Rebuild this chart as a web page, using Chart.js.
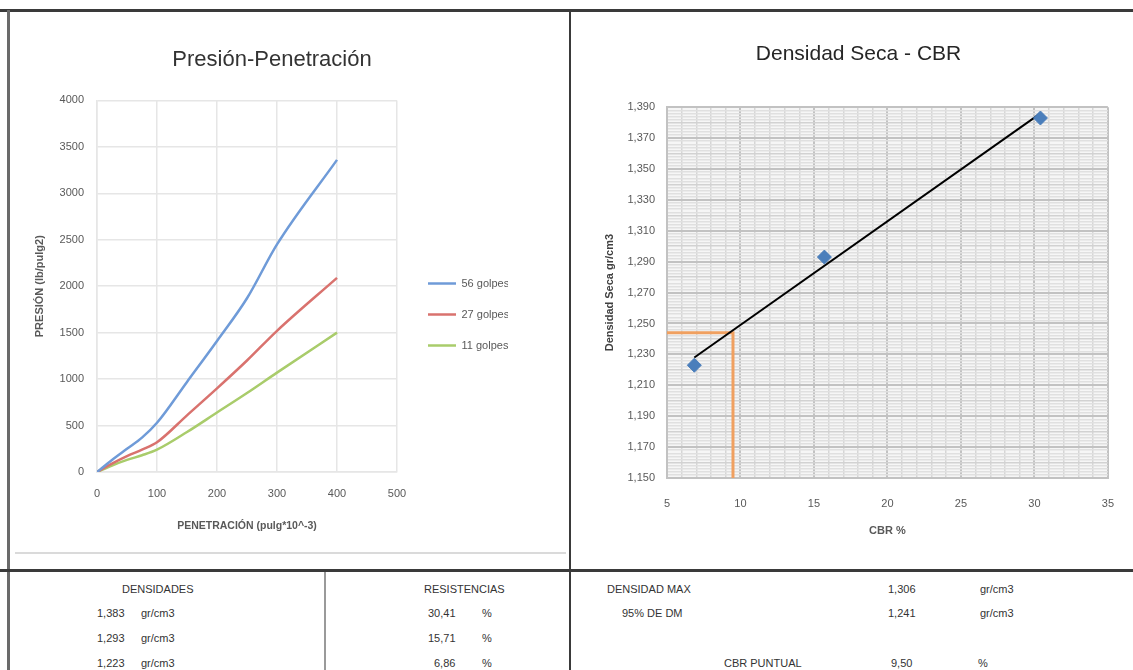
<!DOCTYPE html>
<html>
<head>
<meta charset="utf-8">
<script src="https://cdn.jsdelivr.net/npm/chart.js@4/dist/chart.umd.min.js"></script>
<style>
  html, body { margin: 0; padding: 0; background: #fff; }
  body { width: 1133px; height: 670px; position: relative; overflow: hidden;
         font-family: 'Liberation Sans', Arial, sans-serif; color: #333; }
  .ln { position: absolute; }
  canvas { position: absolute; }
  .t { position: absolute; font-size: 11px; white-space: nowrap; }
</style>
</head>
<body>
<!-- marco de la hoja -->
<div class="ln" style="left:0;top:9px;width:1133px;height:3px;background:#3a3a3a"></div>
<div class="ln" style="left:7px;top:10px;width:3px;height:660px;background:#6a6a6a"></div>
<div class="ln" style="left:569px;top:10px;width:2px;height:660px;background:#3a3a3a"></div>
<div class="ln" style="left:0;top:569px;width:1133px;height:3px;background:#3a3a3a"></div>
<div class="ln" style="left:15px;top:552px;width:551px;height:2px;background:#dadada"></div>
<div class="ln" style="left:324px;top:572px;width:2px;height:98px;background:#9a9a9a"></div>

<canvas id="pen-chart" width="555" height="532" style="left:10px;top:20px;width:555px;height:532px"></canvas>
<canvas id="cbr-chart" width="558" height="540" style="left:575px;top:20px;width:558px;height:540px"></canvas>

<!-- tabla inferior -->
<div class="t" style="left:122px;top:583px">DENSIDADES</div>
<div class="t" style="left:97px;top:607px">1,383</div><div class="t" style="left:141px;top:607px">gr/cm3</div>
<div class="t" style="left:97px;top:632px">1,293</div><div class="t" style="left:141px;top:632px">gr/cm3</div>
<div class="t" style="left:97px;top:657px">1,223</div><div class="t" style="left:141px;top:657px">gr/cm3</div>

<div class="t" style="left:424px;top:583px">RESISTENCIAS</div>
<div class="t" style="left:428px;top:607px">30,41</div><div class="t" style="left:482px;top:607px">%</div>
<div class="t" style="left:428px;top:632px">15,71</div><div class="t" style="left:482px;top:632px">%</div>
<div class="t" style="left:434px;top:657px">6,86</div><div class="t" style="left:482px;top:657px">%</div>

<div class="t" style="left:607px;top:583px">DENSIDAD MAX</div>
<div class="t" style="left:622px;top:607px">95% DE DM</div>
<div class="t" style="left:724px;top:657px">CBR PUNTUAL</div>
<div class="t" style="left:888px;top:583px">1,306</div><div class="t" style="left:980px;top:583px">gr/cm3</div>
<div class="t" style="left:888px;top:607px">1,241</div><div class="t" style="left:980px;top:607px">gr/cm3</div>
<div class="t" style="left:891px;top:657px">9,50</div><div class="t" style="left:978px;top:657px">%</div>

<script>
// Presión - Penetración
const penetracion = [0, 25, 50, 75, 100, 150, 200, 250, 300, 400];
const golpes56 = [0, 130, 250, 370, 530, 970, 1410, 1870, 2450, 3360];
const golpes27 = [0, 90, 170, 240, 320, 610, 900, 1200, 1520, 2090];
const golpes11 = [0, 70, 130, 180, 240, 430, 640, 850, 1070, 1500];
const serieNames = ['56 golpes', '27 golpes', '11 golpes'];
const serieColors = ['#6f9bd8', '#d9726e', '#a9cc6b'];

// Densidad seca - CBR
const cbrValues = [30.41, 15.71, 6.86];
const densValues = [1.383, 1.293, 1.223];
const trendX = [6.86, 30.41];
const trendY = [1.228, 1.386];
const guideX = [5, 9.49, 9.49];
const guideY = [1.244, 1.244, 1.15];

const FONT = "'Liberation Sans', Arial, sans-serif";
const TICK = '#595959';

function pts(xs, ys) {
  return xs.map((x, i) => ({ x: x, y: ys[i] }));
}

// mueve la leyenda a su sitio (Excel la centra sobre todo el gráfico)
const legendPos = {
  id: 'legendPos',
  afterLayout(chart) {
    const lg = chart.legend;
    if (!lg) return;
    const w = lg.width, h = lg.height;
    lg.left = 398; lg.right = 398 + w;
    lg.top = 238; lg.bottom = 238 + h;
  }
};

// fondo gris muy claro del área de trazado
const plotBg = {
  id: 'plotBg',
  beforeDraw(chart, args, opts) {
    const a = chart.chartArea;
    const ctx = chart.ctx;
    ctx.save();
    ctx.fillStyle = opts.color;
    ctx.fillRect(a.left, a.top, a.right - a.left, a.bottom - a.top);
    ctx.restore();
  }
};

new Chart(document.getElementById('pen-chart').getContext('2d'), {
  type: 'scatter',
  data: {
    datasets: [golpes56, golpes27, golpes11].map((serie, i) => ({
      label: serieNames[i],
      data: pts(penetracion, serie),
      showLine: true,
      borderColor: serieColors[i],
      backgroundColor: serieColors[i],
      borderWidth: 2.5,
      pointRadius: 0,
      cubicInterpolationMode: 'monotone'
    }))
  },
  options: {
    responsive: false,
    animation: false,
    layout: { padding: { left: 37, right: 68, top: 0, bottom: 0 } },
    plugins: {
      title: {
        display: true,
        text: 'Presión-Penetración',
        color: '#333333',
        font: { family: FONT, size: 22, weight: 'normal' },
        padding: { top: 27, bottom: 27 }
      },
      legend: {
        position: 'right',
        align: 'start',
        maxWidth: 100,
        labels: {
          usePointStyle: true,
          pointStyle: 'line',
          pointStyleWidth: 28,
          padding: 20,
          color: TICK,
          font: { family: FONT, size: 11 }
        }
      },
      tooltip: { enabled: false }
    },
    scales: {
      x: {
        type: 'linear',
        min: 0, max: 500,
        afterFit: s => { s.height = 80; },
        ticks: { stepSize: 100, padding: 15, color: TICK, font: { family: FONT, size: 11 } },
        grid: { color: '#e6e6e6', lineWidth: 1.5, drawTicks: false },
        border: { color: '#e6e6e6', width: 1.5 },
        title: {
          display: true, text: 'PENETRACIÓN (pulg*10^-3)', color: TICK,
          font: { family: FONT, size: 10.5, weight: 'bold' }, padding: { top: 0, bottom: 20 }
        }
      },
      y: {
        min: 0, max: 4000,
        afterFit: s => { s.width = 50; },
        ticks: {
          stepSize: 500, padding: 13, color: TICK, font: { family: FONT, size: 11 },
          callback: v => String(v)
        },
        grid: { color: '#e6e6e6', lineWidth: 1.5, drawTicks: false },
        border: { color: '#e6e6e6', width: 1.5 },
        title: {
          display: true, text: 'PRESIÓN (lb/pulg2)', color: TICK,
          font: { family: FONT, size: 11, weight: 'bold' }, padding: { top: -14, bottom: 0 }
        }
      }
    }
  },
  plugins: [legendPos]
});

// colores de rejilla tipo papel milimetrado
function yGridColor(ctx) {
  const k = Math.round((ctx.tick.value - 1.15) * 500);
  if (k % 10 === 0) return '#c2c2c2';
  if (k % 5 === 0) return '#d2d2d2';
  return '#e0e0e0';
}
function yGridWidth(ctx) {
  const k = Math.round((ctx.tick.value - 1.15) * 500);
  return k % 10 === 0 ? 2 : 1.5;
}
function xGridColor(ctx) {
  return Math.round(ctx.tick.value) % 5 === 0 ? '#c2c2c2' : '#d6d6d6';
}
function xGridWidth(ctx) {
  return Math.round(ctx.tick.value) % 5 === 0 ? 2 : 1.5;
}

new Chart(document.getElementById('cbr-chart').getContext('2d'), {
  type: 'scatter',
  data: {
    datasets: [
      {
        label: 'Densidad',
        data: pts(cbrValues, densValues),
        pointStyle: 'rectRot',
        pointRadius: 7,
        backgroundColor: '#4a7ebb',
        borderColor: '#4a7ebb',
        order: 0
      },
      {
        label: 'Tendencia',
        data: pts(trendX, trendY),
        showLine: true,
        borderColor: '#000000',
        borderWidth: 2,
        pointRadius: 0,
        order: 1
      },
      {
        label: 'CBR puntual',
        data: pts(guideX, guideY),
        showLine: true,
        borderColor: '#f0a060',
        borderWidth: 3,
        pointRadius: 0,
        order: 2
      }
    ]
  },
  options: {
    responsive: false,
    animation: false,
    layout: { padding: { left: 32, right: 23, top: 0, bottom: 0 } },
    plugins: {
      title: {
        display: true,
        text: 'Densidad Seca - CBR',
        color: '#262626',
        font: { family: FONT, size: 21, weight: 'normal' },
        padding: { top: 22, bottom: 40 }
      },
      legend: { display: false },
      tooltip: { enabled: false },
      plotBg: { color: '#f6f6f6' }
    },
    scales: {
      x: {
        type: 'linear',
        min: 5, max: 35,
        afterFit: s => { s.height = 82; },
        ticks: {
          stepSize: 1, autoSkip: false, maxRotation: 0, maxTicksLimit: 1000, padding: 19,
          color: TICK, font: { family: FONT, size: 11 },
          callback: v => (Math.round(v) % 5 === 0 ? String(v) : '')
        },
        grid: { color: xGridColor, lineWidth: xGridWidth, drawTicks: false },
        border: { color: '#c2c2c2', width: 2 },
        title: {
          display: true, text: 'CBR %', color: TICK,
          font: { family: FONT, size: 11, weight: 'bold' }, padding: { top: 0, bottom: 22 }
        }
      },
      y: {
        min: 1.15, max: 1.39,
        afterFit: s => { s.width = 60; },
        ticks: {
          stepSize: 0.002, autoSkip: false, maxTicksLimit: 1000, padding: 12,
          color: TICK, font: { family: FONT, size: 11 },
          callback: v => (Math.round((v - 1.15) * 500) % 10 === 0 ? v.toFixed(3).replace('.', ',') : '')
        },
        grid: { color: yGridColor, lineWidth: yGridWidth, drawTicks: false },
        border: { color: '#c2c2c2', width: 2 },
        title: {
          display: true, text: 'Densidad Seca gr/cm3', color: '#404040',
          font: { family: FONT, size: 11, weight: 'bold' }, padding: { top: -4, bottom: 0 }
        }
      }
    }
  },
  plugins: [plotBg]
});
</script>
</body>
</html>
